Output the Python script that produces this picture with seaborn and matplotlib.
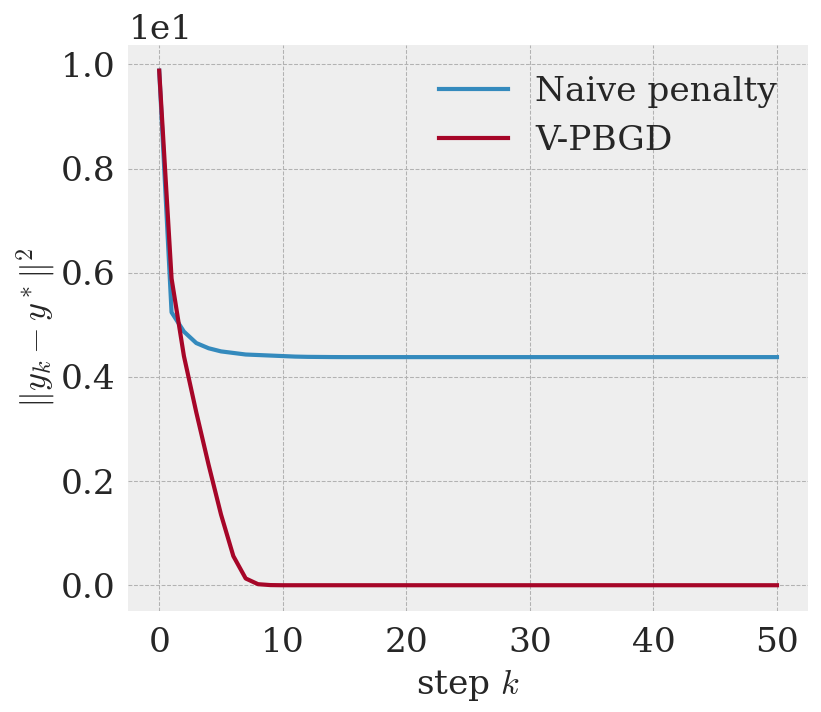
import pandas as pd
import matplotlib
matplotlib.use('Agg')
import matplotlib.pyplot as plt
import seaborn as sns

steps = list(range(51))
naive_penalty = [9.88, 5.24, 4.87, 4.65, 4.55, 4.49, 4.46, 4.43, 4.42, 4.41,
                 4.40, 4.39, 4.385, 4.383, 4.381, 4.38, 4.38, 4.38, 4.38, 4.38,
                 4.38, 4.38, 4.38, 4.38, 4.38, 4.38, 4.38, 4.38, 4.38, 4.38,
                 4.38, 4.38, 4.38, 4.38, 4.38, 4.38, 4.38, 4.38, 4.38, 4.38,
                 4.38, 4.38, 4.38, 4.38, 4.38, 4.38, 4.38, 4.38, 4.38, 4.38,
                 4.38]
vpbgd = [9.88, 5.89, 4.40, 3.32, 2.31, 1.36, 0.56, 0.13, 0.02, 0.003,
         0.0, 0.0, 0.0, 0.0, 0.0, 0.0, 0.0, 0.0, 0.0, 0.0,
         0.0, 0.0, 0.0, 0.0, 0.0, 0.0, 0.0, 0.0, 0.0, 0.0,
         0.0, 0.0, 0.0, 0.0, 0.0, 0.0, 0.0, 0.0, 0.0, 0.0,
         0.0, 0.0, 0.0, 0.0, 0.0, 0.0, 0.0, 0.0, 0.0, 0.0,
         0.0]
methods = ['Naive penalty', 'V-PBGD']
colors = ['#348ABD', '#A60628']

df = pd.DataFrame({
    'step': steps + steps,
    'err': naive_penalty + vpbgd,
    'method': [methods[0]] * len(steps) + [methods[1]] * len(steps),
})

plt.style.use('bmh')
plt.rcParams['font.family'] = ['DejaVu Serif']
plt.rcParams['mathtext.fontset'] = 'cm'
fs = 16.5
plt.rcParams['font.size'] = fs
txt = '#262626'
for k in ['text.color', 'axes.labelcolor', 'xtick.color', 'ytick.color']:
    plt.rcParams[k] = txt

fig = plt.figure(figsize=(821 / 150, 712 / 150), dpi=150)
ax = fig.add_axes([0.1563, 0.1419, 0.8277, 0.795])

sns.lineplot(data=df, x='step', y='err', hue='method', palette=colors,
             linewidth=2, ax=ax)

ax.ticklabel_format(axis='y', style='sci', scilimits=(0, 0))
ax.set_xlabel('step $k$', fontsize=fs, labelpad=4)
ax.set_ylabel(r'$\|y_k - y^*\|^2$', fontsize=fs, labelpad=2)
ax.tick_params(axis='x', labelsize=fs, length=0, pad=7.5)
ax.tick_params(axis='y', labelsize=fs, length=0, pad=6)
ax.yaxis.get_offset_text().set_fontsize(fs)
for s in ax.spines.values():
    s.set_visible(False)
ax.legend(frameon=False, fontsize=fs, loc='upper right', borderaxespad=0.5)

fig.savefig('out.png', dpi=150)
